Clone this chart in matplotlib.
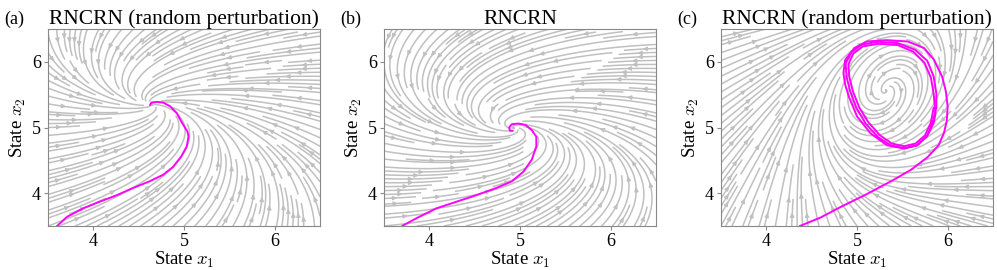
import numpy as np
import matplotlib
matplotlib.use("Agg")
import matplotlib.pyplot as plt

plt.rcParams['mathtext.fontset'] = 'cm'

# ---- data ----
titles = ["RNCRN (random perturbation)", "RNCRN", "RNCRN (random perturbation)"]
panel_labels = ["(a)", "(b)", "(c)"]
ticks = [4, 5, 6]
xlim = [3.5, 6.5]
ylim = [3.5, 6.5]

# vector-field models (fixed point + local Jacobian), stable foci for (a),(b)
center_a = [4.65, 5.35]
jac_a = [[-1.1, -1.0], [0.25, -1.0]]
center_b = [4.93, 4.99]
jac_b = [[-0.7, -1.0], [0.35, -0.55]]
# (c): limit cycle (Hopf-type) in an elliptic frame
center_c = [5.32, 5.56]
ellipse_c = [[0.42, -0.30], [-0.25, -0.72]]  # maps unit circle to cycle
hopf_c = [0.6, 1.0]  # radial rate, angular rate

# magenta trajectories
traj_a_x = [3.60, 3.71, 3.89, 4.07, 4.26, 4.44, 4.62, 4.77, 4.88, 4.97, 5.03, 5.05, 5.04, 5.01,
            4.97, 4.92, 4.85, 4.77, 4.70, 4.64, 4.625]
traj_a_y = [3.50, 3.64, 3.77, 3.87, 3.97, 4.08, 4.18, 4.28, 4.40, 4.56, 4.71, 4.86, 4.93, 5.00,
            5.09, 5.22, 5.32, 5.38, 5.39, 5.38, 5.34]

traj_b_x = [3.70, 3.86, 4.08, 4.30, 4.52, 4.74, 4.91, 5.04, 5.13, 5.18, 5.18, 5.13, 5.06, 4.98,
            4.91, 4.88, 4.89, 4.92]
traj_b_y = [3.50, 3.62, 3.77, 3.87, 3.97, 4.08, 4.18, 4.33, 4.51, 4.71, 4.86, 4.96, 5.04, 5.06,
            5.05, 5.00, 4.95, 4.95]

# (c): approach + first (outermost) pass
traj_c_x = [4.37, 4.60, 4.82, 5.10, 5.40, 5.60, 5.78, 5.90, 5.96, 5.99, 6.00, 5.98, 5.94, 5.85,
            5.74, 5.56, 5.33, 5.11, 4.97, 4.87, 4.85, 4.87, 4.91, 5.00, 5.15, 5.33, 5.52, 5.67,
            5.78, 5.84, 5.875]
traj_c_y = [3.50, 3.63, 3.79, 3.98, 4.20, 4.36, 4.55, 4.73, 4.92, 5.10, 5.32, 5.55, 5.77, 6.03,
            6.21, 6.31, 6.33, 6.31, 6.21, 6.03, 5.83, 5.65, 5.47, 5.17, 4.91, 4.73, 4.68, 4.73,
            4.89, 5.11, 5.30]
# (c): two further passes on the limit cycle
cycle1_x = [5.875, 5.875, 5.845, 5.775, 5.64, 5.45, 5.24, 5.055, 4.94, 4.875, 4.885, 4.925,
            4.995, 5.095, 5.23, 5.375, 5.52, 5.655, 5.77, 5.845, 5.865, 5.86]
cycle1_y = [5.30, 5.52, 5.78, 6.015, 6.185, 6.285, 6.305, 6.265, 6.15, 5.975, 5.77, 5.55,
            5.295, 5.06, 4.855, 4.725, 4.685, 4.725, 4.86, 5.065, 5.20, 5.30]
cycle2_x = [5.86, 5.845, 5.815, 5.745, 5.62, 5.45, 5.24, 5.065, 4.96, 4.905, 4.915, 4.955,
            5.025, 5.125, 5.25, 5.385, 5.52, 5.645, 5.75, 5.815, 5.845]
cycle2_y = [5.30, 5.52, 5.76, 5.985, 6.155, 6.255, 6.275, 6.235, 6.13, 5.965, 5.77, 5.55,
            5.305, 5.08, 4.885, 4.755, 4.715, 4.755, 4.88, 5.075, 5.30]

trajs = [[(traj_a_x, traj_a_y)],
         [(traj_b_x, traj_b_y)],
         [(traj_c_x, traj_c_y), (cycle1_x, cycle1_y), (cycle2_x, cycle2_y)]]


def linear_field(X, Y, c, J):
    J = np.asarray(J)
    u = X - c[0]
    w = Y - c[1]
    return J[0, 0] * u + J[0, 1] * w, J[1, 0] * u + J[1, 1] * w


def hopf_field(X, Y, c, M, pars):
    M = np.asarray(M)
    Minv = np.linalg.inv(M)
    u = X - c[0]
    w = Y - c[1]
    zx = Minv[0, 0] * u + Minv[0, 1] * w
    zy = Minv[1, 0] * u + Minv[1, 1] * w
    r = np.sqrt(zx**2 + zy**2)
    k, om = pars
    dzx = k * (1 - r) * zx - om * zy
    dzy = k * (1 - r) * zy + om * zx
    return M[0, 0] * dzx + M[0, 1] * dzy, M[1, 0] * dzx + M[1, 1] * dzy


gx = np.linspace(xlim[0], xlim[1], 200)
gy = np.linspace(ylim[0], ylim[1], 200)
X, Y = np.meshgrid(gx, gy)
fields = [linear_field(X, Y, center_a, jac_a),
          linear_field(X, Y, center_b, jac_b),
          hopf_field(X, Y, center_c, ellipse_c, hopf_c)]

serif = 'Liberation Serif'
fig = plt.figure(figsize=(9.97, 2.70), dpi=100)
lefts = [48, 384, 721]
W, H = 272, 197
for i in range(3):
    ax = fig.add_axes([lefts[i] / 997, (270 - 29 - H) / 270, W / 997, H / 270])
    U, V = fields[i]
    ax.streamplot(X, Y, U, V, color='#c0c0c0', linewidth=1.1, density=1.7,
                  arrowsize=0.55, arrowstyle='-|>')
    for tx, ty in trajs[i]:
        ax.plot(tx, ty, color='#ff00ff', lw=1.4,
                solid_capstyle='round', solid_joinstyle='round')
    ax.set_xlim(xlim)
    ax.set_ylim(ylim)
    ax.set_xticks(ticks)
    ax.set_yticks(ticks)
    ax.tick_params(labelsize=13, color='#888888', length=3, pad=2)
    for lab in ax.get_xticklabels() + ax.get_yticklabels():
        lab.set_family(serif)
    for s in ax.spines.values():
        s.set_color('#888888')
    ax.set_title(titles[i], family=serif, fontsize=15.5, pad=3)
    ax.set_xlabel('State $x_1$', family=serif, fontsize=13.5, labelpad=0)
    ax.set_ylabel('State $x_2$', family=serif, fontsize=13.5, labelpad=3)
    fig.text((lefts[i] - 44) / 997, 1 - 24 / 270, panel_labels[i],
             family=serif, fontsize=13)

fig.savefig('out.png', dpi=100)
